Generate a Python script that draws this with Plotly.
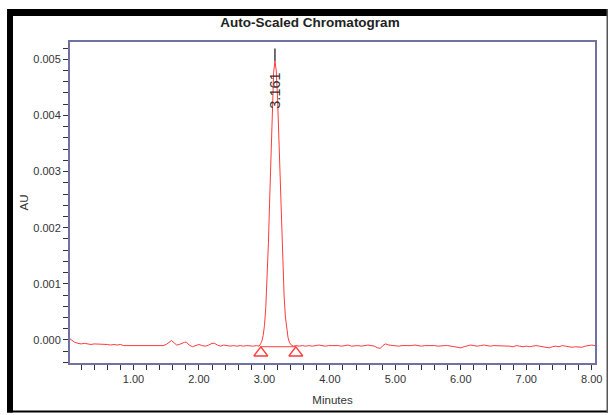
import plotly.graph_objects as go

# Detector trace (time in minutes, absorbance in AU)
time_min = [
    0.03, 0.05, 0.08, 0.10, 0.15, 0.20, 0.25, 0.30, 0.35, 0.40, 0.45, 0.50,
    0.55, 0.60, 0.65, 0.70, 0.75, 0.80, 0.85, 0.90, 0.95, 1.00, 1.05, 1.10,
    1.15, 1.20, 1.25, 1.30, 1.35, 1.40, 1.45, 1.50, 1.55, 1.58, 1.62, 1.66,
    1.70, 1.74, 1.78, 1.81, 1.85, 1.90, 1.95, 2.00, 2.05, 2.10, 2.15, 2.20,
    2.24, 2.28, 2.33, 2.38, 2.43, 2.48, 2.53, 2.58, 2.63, 2.68, 2.73, 2.78,
    2.83, 2.88, 2.92,
    2.941, 2.961, 2.981, 3.001, 3.021, 3.041, 3.061, 3.081, 3.101, 3.121, 3.141,
    3.161,
    3.181, 3.201, 3.221, 3.241, 3.261, 3.281, 3.301, 3.321, 3.341, 3.361, 3.381,
    3.411,
    3.44, 3.48, 3.53, 3.58, 3.63, 3.68, 3.73, 3.78, 3.83, 3.88, 3.93, 3.98,
    4.03, 4.08, 4.13, 4.18, 4.23, 4.28, 4.33, 4.38, 4.43, 4.48, 4.53, 4.58,
    4.63, 4.68, 4.73, 4.77, 4.81, 4.85, 4.90, 4.95, 5.00, 5.05, 5.10, 5.15,
    5.20, 5.25, 5.30, 5.35, 5.40, 5.45, 5.50, 5.55, 5.60, 5.65, 5.70, 5.75,
    5.80, 5.85, 5.90, 5.95, 6.00, 6.05, 6.10, 6.15, 6.20, 6.25, 6.30, 6.35,
    6.40, 6.45, 6.50, 6.55, 6.60, 6.65, 6.70, 6.75, 6.80, 6.85, 6.90, 6.95,
    7.00, 7.05, 7.10, 7.15, 7.20, 7.25, 7.30, 7.35, 7.40, 7.45, 7.50, 7.55,
    7.60, 7.65, 7.70, 7.75, 7.80, 7.85, 7.90, 7.95, 8.00, 8.05,
]
absorbance_au = [
    0.00002, 0.00000, -0.00003, -0.00004, -0.00006, -0.00007, -0.00006, -0.00007,
    -0.00008, -0.00007, -0.00007, -0.00008, -0.00007, -0.00008, -0.00009, -0.00008,
    -0.00009, -0.00008, -0.00010, -0.00010, -0.00009, -0.00009, -0.00010, -0.00009,
    -0.00009, -0.00010, -0.00009, -0.00010, -0.00009, -0.00009, -0.00010, -0.00008,
    -0.00004, -0.00001, -0.00005, -0.00009, -0.00008, -0.00006, -0.00004, -0.00004,
    -0.00009, -0.00012, -0.00010, -0.00008, -0.00010, -0.00011, -0.00009, -0.00006,
    -0.00006, -0.00009, -0.00011, -0.00009, -0.00010, -0.00011, -0.00010, -0.00011,
    -0.00010, -0.00011, -0.00010, -0.00011, -0.00011, -0.00010, -0.00011,
    -0.00007, -0.00002, 0.00008, 0.00026, 0.00058, 0.00106, 0.00172, 0.00253,
    0.00341, 0.00420, 0.00477,
    0.00497,
    0.00479, 0.00429, 0.00358, 0.00277, 0.00198, 0.00130, 0.00078, 0.00041,
    0.00017, 0.00004, -0.00004,
    -0.00009,
    -0.00011, -0.00010, -0.00011, -0.00010, -0.00011, -0.00010, -0.00011, -0.00010,
    -0.00009, -0.00010, -0.00011, -0.00010, -0.00010, -0.00009, -0.00010, -0.00011,
    -0.00010, -0.00009, -0.00011, -0.00010, -0.00010, -0.00011, -0.00010, -0.00009,
    -0.00010, -0.00011, -0.00014, -0.00015, -0.00010, -0.00007, -0.00009, -0.00010,
    -0.00010, -0.00011, -0.00010, -0.00010, -0.00011, -0.00010, -0.00009, -0.00010,
    -0.00011, -0.00010, -0.00010, -0.00009, -0.00010, -0.00011, -0.00010, -0.00010,
    -0.00010, -0.00011, -0.00012, -0.00014, -0.00014, -0.00012, -0.00010, -0.00009,
    -0.00010, -0.00011, -0.00010, -0.00009, -0.00010, -0.00011, -0.00010, -0.00010,
    -0.00011, -0.00010, -0.00010, -0.00011, -0.00012, -0.00010, -0.00011, -0.00012,
    -0.00011, -0.00012, -0.00011, -0.00010, -0.00011, -0.00012, -0.00013, -0.00014,
    -0.00012, -0.00011, -0.00012, -0.00010, -0.00011, -0.00012, -0.00013, -0.00012,
    -0.00012, -0.00013, -0.00011, -0.00010, -0.00009, -0.00010,
]

# Integrated peak: retention time, apex, start/end of integration and baseline level
peak_rt = 3.161
peak_apex_au = 0.00497
peak_marker_top_au = 0.00519
peak_label = "3.161"
peak_label_au = 0.00444
integration_start = 2.945
integration_end = 3.48
integration_baseline_au = -0.00012
integration_marker_au = -0.00023

x_ticks = [1, 2, 3, 4, 5, 6, 7, 8]
x_tick_text = ["1.00", "2.00", "3.00", "4.00", "5.00", "6.00", "7.00", "8.00"]
y_ticks = [0.000, 0.001, 0.002, 0.003, 0.004, 0.005]
y_tick_text = ["0.000", "0.001", "0.002", "0.003", "0.004", "0.005"]

TRACE_RED = "#ff3b3b"
AXIS_COLOR = "#7272a2"
TEXT_COLOR = "#333333"
FONT = "Liberation Sans, Arial, sans-serif"

W, H = 609, 415
L, R, T, B = 70, 14, 42, 52
PW, PH = W - L - R, H - T - B


def px_x(p):
    return (p - L) / PW


def px_y(p):
    return (H - B - p) / PH


fig = go.Figure()

# chromatogram
fig.add_trace(go.Scatter(
    x=time_min, y=absorbance_au, mode="lines",
    line=dict(color=TRACE_RED, width=1), hoverinfo="skip", showlegend=False,
))

# integration baseline under the peak
fig.add_trace(go.Scatter(
    x=[integration_start, integration_end],
    y=[integration_baseline_au, integration_baseline_au],
    mode="lines", line=dict(color=TRACE_RED, width=1),
    hoverinfo="skip", showlegend=False,
))

# peak start / end markers
fig.add_trace(go.Scatter(
    x=[integration_start, integration_end],
    y=[integration_marker_au, integration_marker_au],
    mode="markers",
    marker=dict(symbol="triangle-up-open", size=12, color=TRACE_RED,
                line=dict(color=TRACE_RED, width=1.5)),
    hoverinfo="skip", showlegend=False,
))

# apex marker
fig.add_trace(go.Scatter(
    x=[peak_rt, peak_rt], y=[peak_apex_au, peak_marker_top_au],
    mode="lines", line=dict(color="#111111", width=1.2),
    hoverinfo="skip", showlegend=False,
))

fig.add_annotation(
    x=peak_rt, y=peak_label_au, text=peak_label, showarrow=False,
    textangle=-90, font=dict(family=FONT, size=14.5, color=TEXT_COLOR),
    xanchor="center", yanchor="middle",
)

# report frame: heavy top/left edges, thin right/bottom edges
frame = [
    dict(x0=7, x1=608, y0=9, y1=16, color="#000000"),
    dict(x0=7, x1=13, y0=9, y1=412.5, color="#000000"),
    dict(x0=7, x1=608, y0=410.5, y1=412.5, color="#000000"),
    dict(x0=606.5, x1=608, y0=9, y1=412.5, color="#555555"),
]
for f in frame:
    fig.add_shape(
        type="rect", xref="paper", yref="paper",
        x0=px_x(f["x0"]), x1=px_x(f["x1"]),
        y0=px_y(f["y1"]), y1=px_y(f["y0"]),
        fillcolor=f["color"], line=dict(width=0), layer="above",
    )

axis_common = dict(
    showline=True, linecolor=AXIS_COLOR, linewidth=2, mirror=True,
    showgrid=False, zeroline=False,
    ticks="outside", ticklen=5, tickwidth=1, tickcolor=TEXT_COLOR,
    tickfont=dict(family=FONT, size=11, color=TEXT_COLOR),
)

fig.update_xaxes(
    range=[0.03, 8.05], tickmode="array", tickvals=x_ticks, ticktext=x_tick_text,
    minor=dict(tick0=0, dtick=0.2, ticks="outside", ticklen=5, tickcolor=TEXT_COLOR),
    title=dict(text="Minutes", font=dict(family=FONT, size=11.5, color=TEXT_COLOR),
               standoff=12),
    **axis_common,
)
fig.update_yaxes(
    range=[-0.00041, 0.005308], tickmode="array", tickvals=y_ticks, ticktext=y_tick_text,
    minor=dict(tick0=0, dtick=0.0002, ticks="outside", ticklen=5, tickcolor=TEXT_COLOR),
    title=dict(text="AU", font=dict(family=FONT, size=11.5, color=TEXT_COLOR),
               standoff=2),
    **axis_common,
)

fig.update_layout(
    width=W, height=H,
    margin=dict(l=L, r=R, t=T, b=B, autoexpand=False),
    paper_bgcolor="white", plot_bgcolor="white",
    title=dict(text="<b>Auto-Scaled Chromatogram</b>", x=310 / W, xanchor="center",
               y=1 - 22.5 / H, yanchor="middle", xref="container", yref="container",
               font=dict(family=FONT, size=13.5, color="#222222")),
    showlegend=False,
)

fig.write_html("out.html")
